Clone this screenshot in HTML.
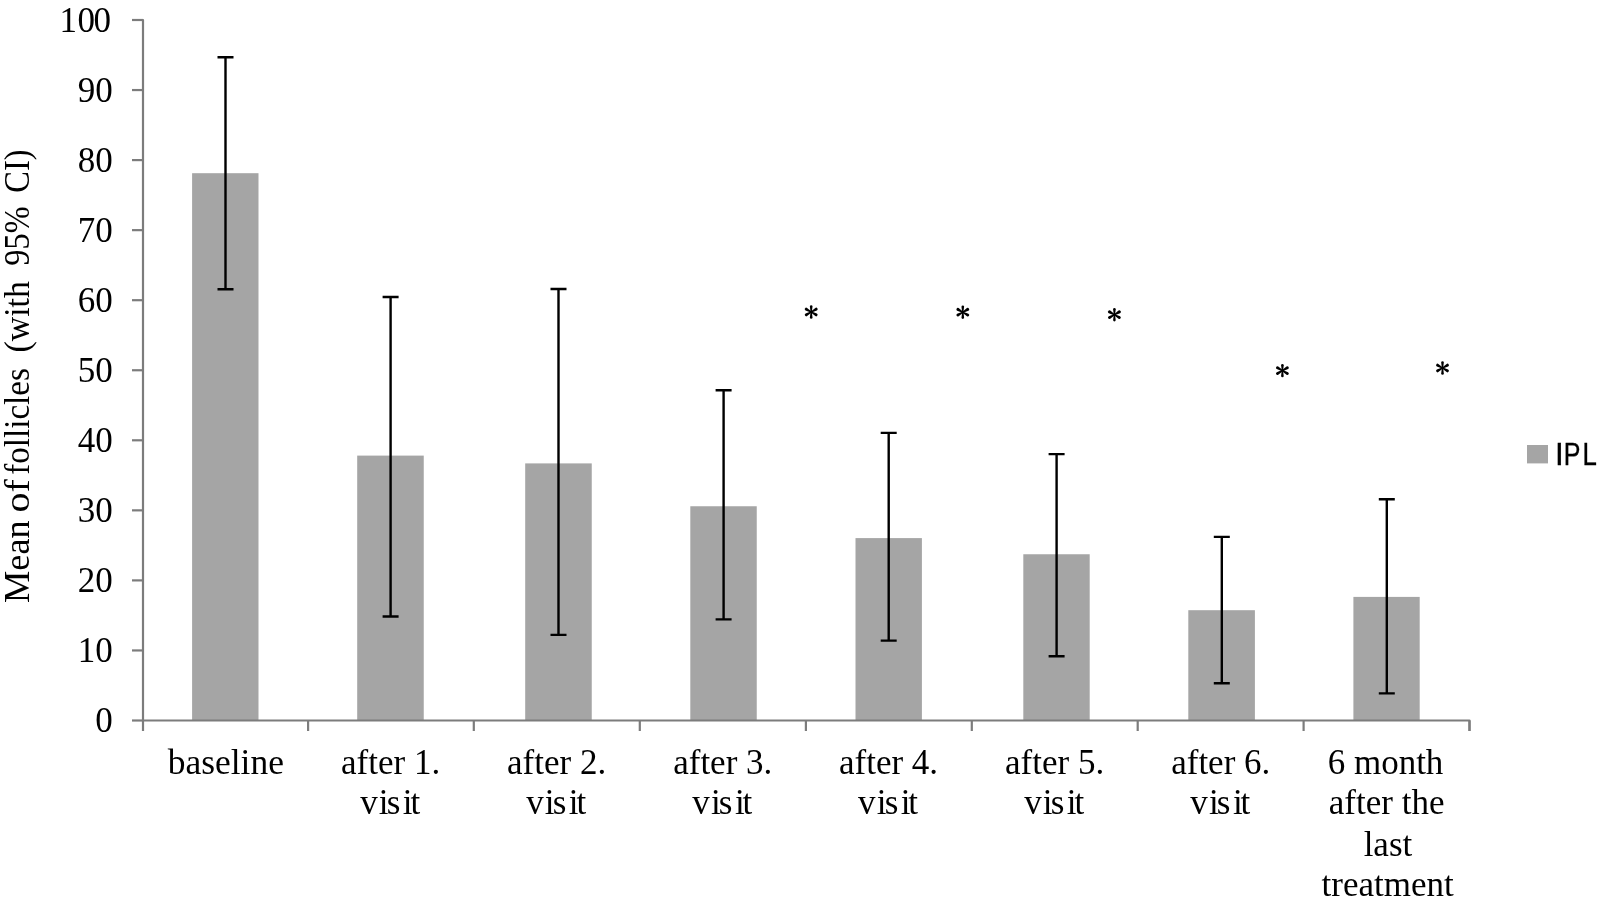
<!DOCTYPE html><html><head><meta charset="utf-8"><style>
html,body{margin:0;padding:0;background:#fff;width:1600px;height:907px;overflow:hidden}
svg{position:absolute;left:0;top:0;display:block;will-change:transform}
.s{font-family:"Liberation Serif",serif;fill:#000}
.a{font-family:"Liberation Sans",sans-serif;fill:#000}
</style></head><body>
<svg width="1600" height="907" viewBox="0 0 1600 907">
<rect width="1600" height="907" fill="#fff"/>
<rect x="192.10" y="173.20" width="66.40" height="547.30" fill="#a5a5a5"/>
<rect x="357.20" y="455.60" width="66.55" height="264.90" fill="#a5a5a5"/>
<rect x="525.20" y="463.40" width="66.55" height="257.10" fill="#a5a5a5"/>
<rect x="690.30" y="506.25" width="66.45" height="214.25" fill="#a5a5a5"/>
<rect x="855.50" y="538.10" width="66.40" height="182.40" fill="#a5a5a5"/>
<rect x="1023.30" y="554.25" width="66.40" height="166.25" fill="#a5a5a5"/>
<rect x="1188.30" y="610.20" width="66.60" height="110.30" fill="#a5a5a5"/>
<rect x="1353.40" y="596.90" width="66.30" height="123.60" fill="#a5a5a5"/>
<g stroke="#7c7c7c" stroke-width="2.2" fill="none">
<path stroke-linejoin="round" d="M132 20.00 H143.0 V720.5 H1469.5 V731"/>
<path d="M132 720.50 H143.0"/>
<path d="M132 650.45 H143.0"/>
<path d="M132 580.40 H143.0"/>
<path d="M132 510.35 H143.0"/>
<path d="M132 440.30 H143.0"/>
<path d="M132 370.25 H143.0"/>
<path d="M132 300.20 H143.0"/>
<path d="M132 230.15 H143.0"/>
<path d="M132 160.10 H143.0"/>
<path d="M132 90.05 H143.0"/>
<path d="M132 20.00 H143.0"/>
<path d="M143.0 720.5 V731"/>
<path d="M308.1 720.5 V731"/>
<path d="M473.8 720.5 V731"/>
<path d="M639.8 720.5 V731"/>
<path d="M805.9 720.5 V731"/>
<path d="M971.8 720.5 V731"/>
<path d="M1137.7 720.5 V731"/>
<path d="M1303.6 720.5 V731"/>
<path d="M1469.5 720.5 V731"/>
</g>
<g stroke="#000" stroke-width="2.4" fill="none">
<path d="M225.5 57.3 V289.3 M217.5 57.3 H233.5 M217.5 289.3 H233.5"/>
<path d="M390.6 297.0 V616.5 M382.6 297.0 H398.6 M382.6 616.5 H398.6"/>
<path d="M558.5 289.0 V634.9 M550.5 289.0 H566.5 M550.5 634.9 H566.5"/>
<path d="M723.6 390.2 V619.4 M715.6 390.2 H731.6 M715.6 619.4 H731.6"/>
<path d="M888.7 432.9 V640.6 M880.7 432.9 H896.7 M880.7 640.6 H896.7"/>
<path d="M1056.6 454.1 V656.3 M1048.6 454.1 H1064.6 M1048.6 656.3 H1064.6"/>
<path d="M1221.8 536.9 V683.2 M1213.8 536.9 H1229.8 M1213.8 683.2 H1229.8"/>
<path d="M1386.8 499.2 V693.4 M1378.8 499.2 H1394.8 M1378.8 693.4 H1394.8"/>
</g>
<text class="s" x="112.8" y="732.20" font-size="35" text-anchor="end">0</text>
<text class="s" x="112.8" y="662.15" font-size="35" text-anchor="end">10</text>
<text class="s" x="112.8" y="592.10" font-size="35" text-anchor="end">20</text>
<text class="s" x="112.8" y="522.05" font-size="35" text-anchor="end">30</text>
<text class="s" x="112.8" y="452.00" font-size="35" text-anchor="end">40</text>
<text class="s" x="112.8" y="381.95" font-size="35" text-anchor="end">50</text>
<text class="s" x="112.8" y="311.90" font-size="35" text-anchor="end">60</text>
<text class="s" x="112.8" y="241.85" font-size="35" text-anchor="end">70</text>
<text class="s" x="112.8" y="171.80" font-size="35" text-anchor="end">80</text>
<text class="s" x="112.8" y="101.75" font-size="35" text-anchor="end">90</text>
<text class="s" x="59.62 77.47 93.57" y="31.70" font-size="35">100</text>
<text class="s" font-size="35" transform="translate(29.4,602.95) rotate(-90) scale(1.0364,1)">Mean</text>
<text class="s" font-size="35" transform="translate(29.4,512.42) rotate(-90) scale(1.1394,1)">of</text>
<text class="s" font-size="35" transform="translate(29.4,474.72) rotate(-90) scale(0.9456,1)">follicles</text>
<text class="s" font-size="35" transform="translate(29.4,352.49) rotate(-90) scale(0.9655,1)">(with</text>
<text class="s" font-size="35" transform="translate(29.4,265.64) rotate(-90) scale(0.9235,1)">95%</text>
<text class="s" font-size="35" transform="translate(29.4,192.63) rotate(-90) scale(0.9249,1)">CI)</text>
<text class="s" font-size="35" transform="translate(167.70,773.6) scale(1.0136,1)" xml:space="preserve">baseline</text>
<text class="s" x="341.09" y="773.6" font-size="35" xml:space="preserve">after 1.</text>
<text class="s" x="360.20 378.87 386.76 402.87 410.46" y="813.5" font-size="35">visit</text>
<text class="s" x="507.09" y="773.6" font-size="35" xml:space="preserve">after 2.</text>
<text class="s" x="526.20 544.87 552.76 568.87 576.46" y="813.5" font-size="35">visit</text>
<text class="s" x="673.19" y="773.6" font-size="35" xml:space="preserve">after 3.</text>
<text class="s" x="692.30 710.97 718.86 734.97 742.56" y="813.5" font-size="35">visit</text>
<text class="s" x="838.99" y="773.6" font-size="35" xml:space="preserve">after 4.</text>
<text class="s" x="858.10 876.77 884.66 900.77 908.36" y="813.5" font-size="35">visit</text>
<text class="s" x="1005.09" y="773.6" font-size="35" xml:space="preserve">after 5.</text>
<text class="s" x="1024.20 1042.87 1050.76 1066.87 1074.46" y="813.5" font-size="35">visit</text>
<text class="s" x="1171.19" y="773.6" font-size="35" xml:space="preserve">after 6.</text>
<text class="s" x="1190.30 1208.97 1216.86 1232.97 1240.56" y="813.5" font-size="35">visit</text>
<text class="s" x="1327.68" y="773.6" font-size="35" xml:space="preserve">6 month</text>
<text class="s" x="1328.84" y="813.5" font-size="35" xml:space="preserve">after the</text>
<text class="s" x="1363.65" y="856.0" font-size="35" xml:space="preserve">last</text>
<text class="s" x="1321.60" y="895.8" font-size="35" xml:space="preserve">treatment</text>
<g transform="translate(811.2,312.0)" fill="#000">
<path transform="rotate(0)" d="M-0.65 0 L-1.3 -5.4 A1.3 1.3 0 0 1 1.3 -5.4 L0.65 0 Z"/>
<path transform="rotate(60)" d="M-0.65 0 L-1.5 -5.65 A1.5 1.5 0 0 1 1.5 -5.65 L0.65 0 Z"/>
<path transform="rotate(120)" d="M-0.65 0 L-1.5 -5.65 A1.5 1.5 0 0 1 1.5 -5.65 L0.65 0 Z"/>
<path transform="rotate(180)" d="M-0.65 0 L-1.3 -5.4 A1.3 1.3 0 0 1 1.3 -5.4 L0.65 0 Z"/>
<path transform="rotate(240)" d="M-0.65 0 L-1.5 -5.65 A1.5 1.5 0 0 1 1.5 -5.65 L0.65 0 Z"/>
<path transform="rotate(300)" d="M-0.65 0 L-1.5 -5.65 A1.5 1.5 0 0 1 1.5 -5.65 L0.65 0 Z"/>
<circle r="1.2"/></g>
<g transform="translate(962.8,312.2)" fill="#000">
<path transform="rotate(0)" d="M-0.65 0 L-1.3 -5.4 A1.3 1.3 0 0 1 1.3 -5.4 L0.65 0 Z"/>
<path transform="rotate(60)" d="M-0.65 0 L-1.5 -5.65 A1.5 1.5 0 0 1 1.5 -5.65 L0.65 0 Z"/>
<path transform="rotate(120)" d="M-0.65 0 L-1.5 -5.65 A1.5 1.5 0 0 1 1.5 -5.65 L0.65 0 Z"/>
<path transform="rotate(180)" d="M-0.65 0 L-1.3 -5.4 A1.3 1.3 0 0 1 1.3 -5.4 L0.65 0 Z"/>
<path transform="rotate(240)" d="M-0.65 0 L-1.5 -5.65 A1.5 1.5 0 0 1 1.5 -5.65 L0.65 0 Z"/>
<path transform="rotate(300)" d="M-0.65 0 L-1.5 -5.65 A1.5 1.5 0 0 1 1.5 -5.65 L0.65 0 Z"/>
<circle r="1.2"/></g>
<g transform="translate(1114.4,314.7)" fill="#000">
<path transform="rotate(0)" d="M-0.65 0 L-1.3 -5.4 A1.3 1.3 0 0 1 1.3 -5.4 L0.65 0 Z"/>
<path transform="rotate(60)" d="M-0.65 0 L-1.5 -5.65 A1.5 1.5 0 0 1 1.5 -5.65 L0.65 0 Z"/>
<path transform="rotate(120)" d="M-0.65 0 L-1.5 -5.65 A1.5 1.5 0 0 1 1.5 -5.65 L0.65 0 Z"/>
<path transform="rotate(180)" d="M-0.65 0 L-1.3 -5.4 A1.3 1.3 0 0 1 1.3 -5.4 L0.65 0 Z"/>
<path transform="rotate(240)" d="M-0.65 0 L-1.5 -5.65 A1.5 1.5 0 0 1 1.5 -5.65 L0.65 0 Z"/>
<path transform="rotate(300)" d="M-0.65 0 L-1.5 -5.65 A1.5 1.5 0 0 1 1.5 -5.65 L0.65 0 Z"/>
<circle r="1.2"/></g>
<g transform="translate(1282.4,370.6)" fill="#000">
<path transform="rotate(0)" d="M-0.65 0 L-1.3 -5.4 A1.3 1.3 0 0 1 1.3 -5.4 L0.65 0 Z"/>
<path transform="rotate(60)" d="M-0.65 0 L-1.5 -5.65 A1.5 1.5 0 0 1 1.5 -5.65 L0.65 0 Z"/>
<path transform="rotate(120)" d="M-0.65 0 L-1.5 -5.65 A1.5 1.5 0 0 1 1.5 -5.65 L0.65 0 Z"/>
<path transform="rotate(180)" d="M-0.65 0 L-1.3 -5.4 A1.3 1.3 0 0 1 1.3 -5.4 L0.65 0 Z"/>
<path transform="rotate(240)" d="M-0.65 0 L-1.5 -5.65 A1.5 1.5 0 0 1 1.5 -5.65 L0.65 0 Z"/>
<path transform="rotate(300)" d="M-0.65 0 L-1.5 -5.65 A1.5 1.5 0 0 1 1.5 -5.65 L0.65 0 Z"/>
<circle r="1.2"/></g>
<g transform="translate(1442.5,368.0)" fill="#000">
<path transform="rotate(0)" d="M-0.65 0 L-1.3 -5.4 A1.3 1.3 0 0 1 1.3 -5.4 L0.65 0 Z"/>
<path transform="rotate(60)" d="M-0.65 0 L-1.5 -5.65 A1.5 1.5 0 0 1 1.5 -5.65 L0.65 0 Z"/>
<path transform="rotate(120)" d="M-0.65 0 L-1.5 -5.65 A1.5 1.5 0 0 1 1.5 -5.65 L0.65 0 Z"/>
<path transform="rotate(180)" d="M-0.65 0 L-1.3 -5.4 A1.3 1.3 0 0 1 1.3 -5.4 L0.65 0 Z"/>
<path transform="rotate(240)" d="M-0.65 0 L-1.5 -5.65 A1.5 1.5 0 0 1 1.5 -5.65 L0.65 0 Z"/>
<path transform="rotate(300)" d="M-0.65 0 L-1.5 -5.65 A1.5 1.5 0 0 1 1.5 -5.65 L0.65 0 Z"/>
<circle r="1.2"/></g>
<rect x="1527" y="445" width="21" height="18.4" fill="#a5a5a5"/>
<text class="a" font-size="31.5" transform="translate(1555.04,465.2) scale(1.0,1)" stroke="#000" stroke-width="0.35">I</text>
<text class="a" font-size="31.5" transform="translate(1563.85,465.2) scale(0.793,1)" stroke="#000" stroke-width="0.35">P</text>
<text class="a" font-size="31.5" transform="translate(1582.58,465.2) scale(0.82,1)" stroke="#000" stroke-width="0.35">L</text>
</svg></body></html>
